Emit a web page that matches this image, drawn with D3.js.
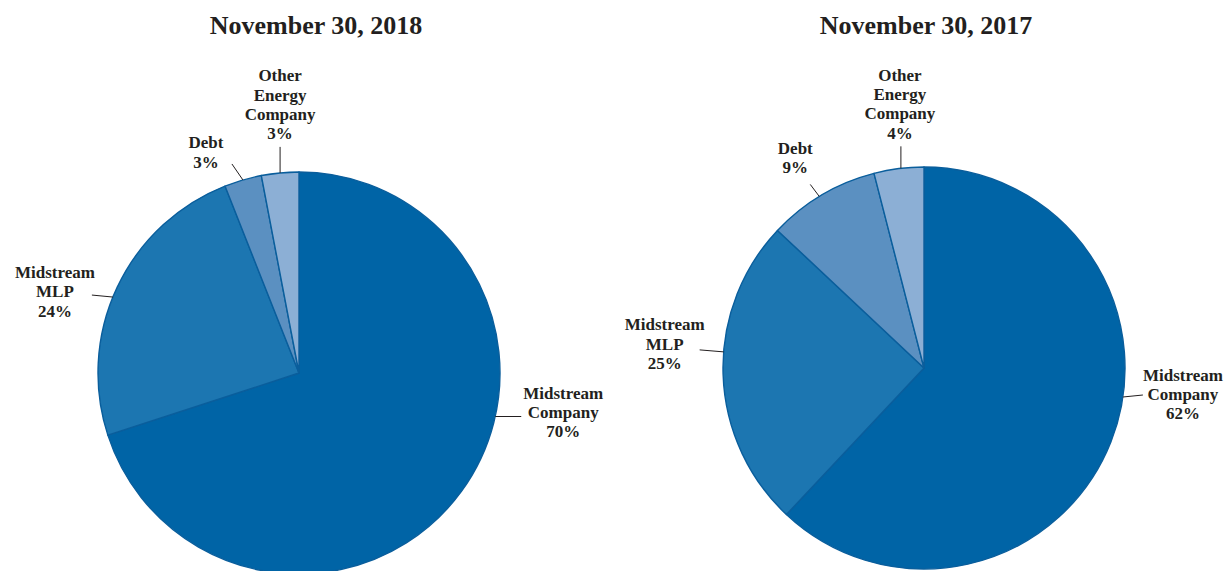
<!DOCTYPE html>
<html>
<head>
<meta charset="utf-8">
<script src="https://cdn.jsdelivr.net/npm/d3@7"></script>
<style>
  html, body { margin: 0; padding: 0; background: #fff; }
  text { font-family: "Liberation Serif", "Times New Roman", serif; font-weight: bold; fill: #231f20; }
</style>
</head>
<body>
<svg id="chart" width="1226" height="571"></svg>
<script>
// data
var categories = ["Midstream Company", "Midstream MLP", "Debt", "Other Energy Company"];
var labelLines = [["Midstream", "Company"], ["Midstream", "MLP"], ["Debt"], ["Other", "Energy", "Company"]];
var values2018 = [70, 24, 3, 3];
var values2017 = [62, 25, 9, 4];
var titles = ["November 30, 2018", "November 30, 2017"];

var colors = ["#0064a6", "#1c76b1", "#5b90c1", "#8cafd5"];

// layout for each pie: centre, title and label placement
// ang = leader start angle (deg clockwise from 12), lx/ly = leader vector, tx/ty = text offset from leader end
var panels = [
    {values: values2018, title: titles[0], cx: 299, cy: 373, tcx: 316,
        labels: [
            {ang: 102.5, lx: 26, ly: 0, tx: 42, ty: -18},
            {ang: 292.2, lx: -21, ly: -2, tx: -37, ty: -17},
            {ang: 343.8, lx: -11, ly: -16, tx: -26, ty: -15.5},
            {ang: 354.6, lx: 0, ly: -26, tx: 0, ty: -65.5}
        ]},
    {values: values2017, title: titles[1], cx: 924, cy: 368, tcx: 926,
        labels: [
            {ang: 98.3, lx: 20, ly: -2, tx: 40, ty: -14.5},
            {ang: 274.6, lx: -24, ly: -2, tx: -35, ty: -19.5},
            {ang: 328.6, lx: -9, ly: -12, tx: -15, ty: -30.5},
            {ang: 353.4, lx: 0, ly: -22, tx: -1, ty: -65.5}
        ]}
];

var radius = 201;
var lineH = 19.3;

var svg = d3.select("#chart");

var pie = d3.pie().sort(null).value(function (d) { return d; });
var arc = d3.arc().innerRadius(0).outerRadius(radius);

panels.forEach(function (p) {
    // title
    svg.append("text")
        .attr("x", p.tcx)
        .attr("y", 34)
        .attr("text-anchor", "middle")
        .style("font-size", "26px")
        .text(p.title);

    var g = svg.append("g")
        .attr("transform", "translate(" + p.cx + "," + p.cy + ")");

    g.selectAll("path.slice")
        .data(pie(p.values))
        .enter()
        .append("path")
        .attr("class", "slice")
        .attr("d", arc)
        .attr("fill", function (d, i) { return colors[i]; })
        .attr("stroke", "#0a5e9c")
        .attr("stroke-width", 1.4)
        .attr("stroke-linejoin", "round");

    //labels with leader lines
    p.values.forEach(function (v, i) {
        var L = p.labels[i];
        var a = L.ang * Math.PI / 180;
        var sx = radius * Math.sin(a), sy = -radius * Math.cos(a);
        var ex = sx + L.lx, ey = sy + L.ly;

        g.append("line")
            .attr("x1", sx).attr("y1", sy)
            .attr("x2", ex).attr("y2", ey)
            .attr("stroke", "#231f20")
            .attr("stroke-width", 1);

        var lines = labelLines[i].concat([v + "%"]);
        var t = g.append("text")
            .attr("text-anchor", "middle")
            .style("font-size", "17px");
        lines.forEach(function (s, k) {
            t.append("tspan")
                .attr("x", ex + L.tx)
                .attr("y", ey + L.ty + k * lineH)
                .text(s);
        });
    });
});
</script>
</body>
</html>
